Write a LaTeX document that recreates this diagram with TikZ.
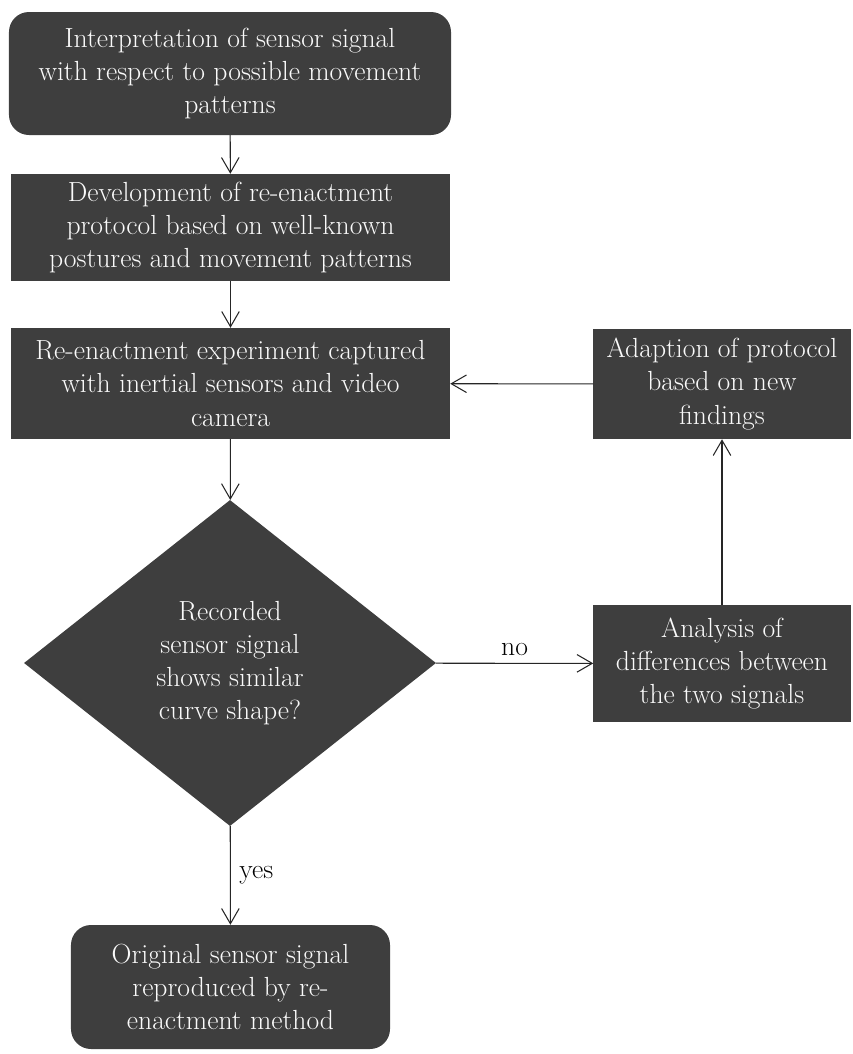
\documentclass[tikz,border=0pt]{standalone}
\usetikzlibrary{shapes.geometric,arrows.meta}
\definecolor{boxgray}{RGB}{62,62,62}
\definecolor{boxtext}{RGB}{250,250,250}

\begin{document}
\begin{tikzpicture}[x=0.03cm,y=-0.03cm,
  font=\fontsize{23.6}{28.3}\selectfont,
  box/.style={fill=boxgray,text=boxtext,align=center,inner sep=0pt},
  rbox/.style={box,rounded corners=0.6cm},
  flow/.style={->,>={Straight Barb[length=13pt,width=15pt]},line width=0.9pt,draw=black!85}]
\useasboundingbox (0,0) rectangle (853,1054);
\node[rbox,minimum width=13.26cm,minimum height=3.69cm] (interp) at (230,73.5) {Interpretation of sensor signal\\with respect to possible movement\\patterns};
\node[box,minimum width=13.17cm,minimum height=3.21cm] (devel) at (230.5,227.5) {Development of re-enactment\\protocol based on well-known\\postures and movement patterns};
\node[box,minimum width=13.17cm,minimum height=3.33cm] (reenact) at (230.5,383.5) {Re-enactment experiment captured\\with inertial sensors and video\\camera};
\node[box,diamond,minimum width=12.36cm,minimum height=9.78cm] (decide) at (230,663) {Recorded\\sensor signal\\shows similar\\curve shape?};
\node[box,minimum width=7.71cm,minimum height=3.3cm] (adapt) at (722,384) {Adaption of protocol\\based on new\\findings};
\node[box,minimum width=7.71cm,minimum height=3.51cm] (analys) at (722,663.5) {Analysis of\\differences between\\the two signals};
\node[rbox,minimum width=9.57cm,minimum height=3.72cm] (orig) at (230.5,987) {Original sensor signal\\reproduced by re-\\enactment method};
%\draw (0,0) to[grid with coordinates] (853,1054);
\draw[flow] (interp) -- (devel);
\draw[flow] (devel) -- (reenact);
\draw[flow] (reenact) -- (decide);
\draw[flow] (decide) -- node[above=3pt] (nolbl) {no} (analys);
\draw[flow] (analys) -- (adapt);
\draw[flow] (adapt) -- (reenact);
\draw[flow] (decide) -- node[right=4pt] (yeslbl) {yes} (orig);
\end{tikzpicture}
\end{document}
